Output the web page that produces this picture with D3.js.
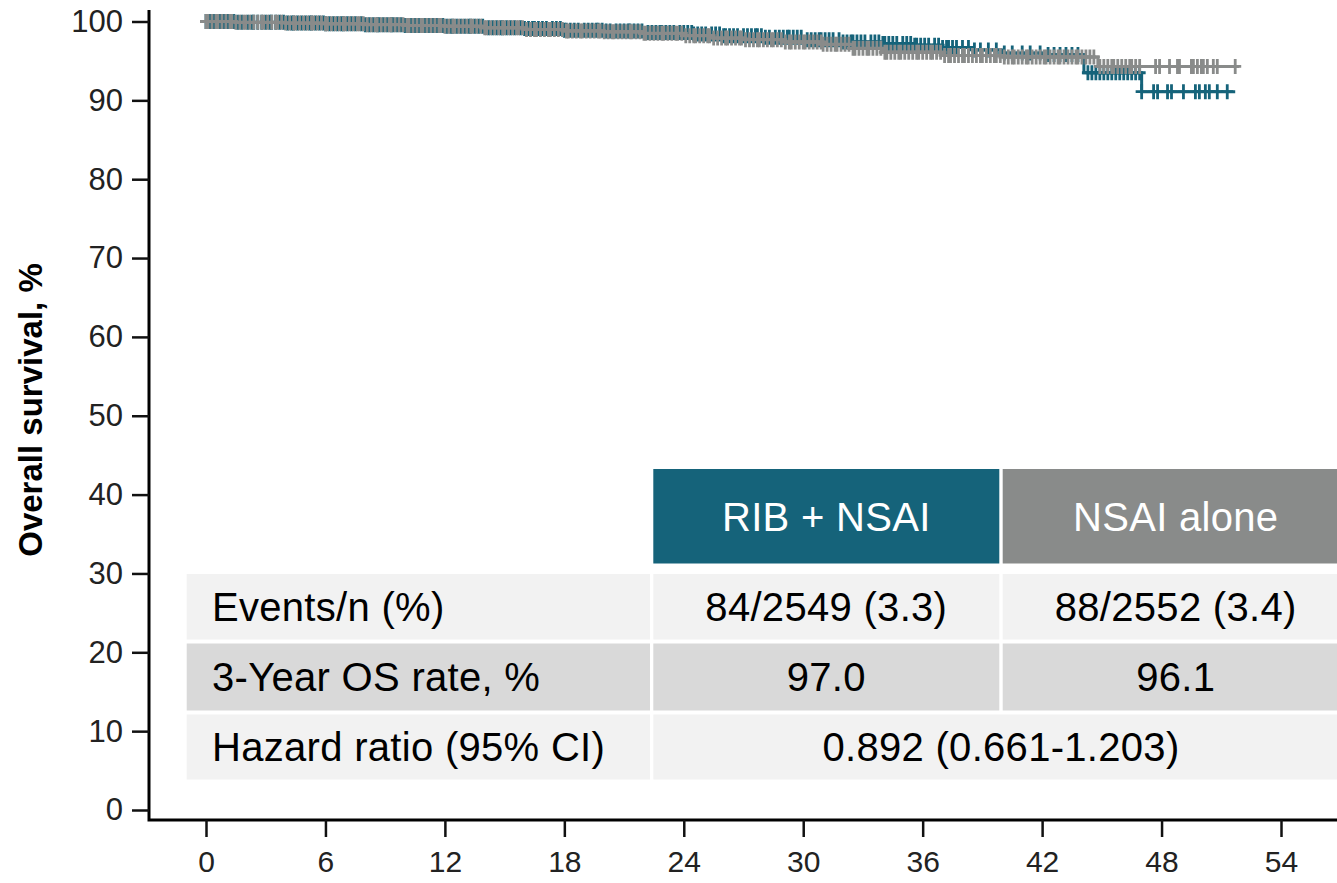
<!DOCTYPE html>
<html>
<head>
<meta charset="utf-8">
<script src="https://cdn.jsdelivr.net/npm/d3@7"></script>
<style>
  html, body { margin: 0; padding: 0; background: #fff; }
  svg { display: block; font-family: "Liberation Sans", Arial, Helvetica, sans-serif; }
</style>
</head>
<body>
<svg id="chart" width="1337" height="883"></svg>
<script>
// ---- axis ticks ----
const monthTicks = [0, 6, 12, 18, 24, 30, 36, 42, 48, 54];
const survivalTicks = [0, 10, 20, 30, 40, 50, 60, 70, 80, 90, 100];

// ---- Kaplan-Meier steps: [month, overall survival %] ----
const ribSteps = [
  [0, 100], [1.5, 99.9], [4, 99.8], [6, 99.7], [8, 99.6], [10, 99.5], [12, 99.4],
  [14, 99.2], [16, 99.1], [18, 98.9], [20, 98.8], [22, 98.6], [24.5, 98.4], [26, 98.2],
  [28, 98.0], [30, 97.7], [32, 97.4], [34, 97.2], [35.5, 97.0], [37, 96.7], [38.5, 96.4],
  [40, 96.0], [42, 95.8], [44.1, 93.5], [47.0, 91.1]
];
const ribEnd = 51.7;

const nsaiSteps = [
  [0, 100], [1.5, 99.9], [4, 99.8], [6, 99.7], [8, 99.6], [10, 99.5], [12, 99.4],
  [14, 99.2], [16, 99.0], [18, 98.8], [20, 98.7], [22, 98.5], [24, 98.2], [25.5, 97.9],
  [27, 97.7], [29, 97.4], [31, 97.1], [32.5, 96.6], [34, 96.1], [37, 95.7], [40, 95.5],
  [44.8, 94.3]
];
const nsaiEnd = 51.9;

// ---- censoring times (months) ----
const ribCensored = [
  0.0, 0.2, 0.4, 0.6, 0.7, 0.9, 1.1, 1.3, 1.4, 1.6, 1.8, 2.1, 2.3, 2.4, 2.6, 2.8, 3.0, 3.2,
  3.3, 3.5, 3.7, 3.9, 4.1, 4.3, 4.4, 4.6, 4.8, 5.0, 5.2, 5.3, 5.5, 5.7, 5.9, 6.0, 6.2, 6.4,
  6.6, 6.8, 6.9, 7.1, 7.3, 7.5, 7.8, 8.0, 8.2, 8.4, 8.6, 8.7, 8.9, 9.1, 9.3, 9.4, 9.6, 9.8,
  10.0, 10.2, 10.3, 10.5, 10.7, 10.9, 11.0, 11.2, 11.4, 11.6, 11.9, 12.1, 12.3, 12.4, 12.6,
  12.8, 13.0, 13.2, 13.3, 13.5, 13.7, 13.9, 14.2, 14.4, 14.6, 14.8, 14.9, 15.1, 15.3, 15.5,
  15.8, 16.0, 16.2, 16.4, 16.5, 16.7, 16.9, 17.1, 17.4, 17.6, 17.8, 18.0, 18.1, 18.3, 18.5,
  18.7, 19.0, 19.2, 19.4, 19.6, 19.7, 19.9, 20.1, 20.3, 20.6, 20.8, 21.0, 21.2, 21.3, 21.5,
  21.7, 21.9, 22.2, 22.4, 22.6, 22.8, 22.9, 23.1, 23.3, 23.5, 23.8, 24.0, 24.2, 24.4, 24.5,
  24.7, 24.9, 25.1, 25.4, 25.6, 25.8, 26.0, 26.1, 26.3, 26.5, 26.7, 27.0, 27.2, 27.4, 27.6,
  27.7, 27.9, 28.1, 28.3, 28.6, 28.8, 29.0, 29.2, 29.3, 29.5, 29.7, 29.9, 30.2, 30.4, 30.6,
  30.8, 30.9, 31.1, 31.3, 31.5, 31.8, 32.0, 32.2, 32.4, 32.5, 32.7, 32.9, 33.1, 33.4, 33.6,
  33.8, 34.0, 34.1, 34.3, 34.5, 34.7, 35.0, 35.2, 35.4, 35.6, 35.7, 35.9, 36.1, 36.3, 36.6,
  36.8, 37.0, 37.2, 37.3, 37.5, 37.7, 38.0, 38.3, 38.6, 38.9, 39.3, 39.7, 40.1, 40.5, 41.0,
  41.4, 41.9, 42.3, 42.6, 42.9, 43.2, 43.5, 43.8, 44.3, 44.5, 44.7, 44.9, 45.1, 45.3, 45.5,
  45.7, 45.9, 46.1, 46.3, 46.5, 46.7, 46.9, 47.0, 47.6, 47.8, 48.3, 48.5, 49.1, 49.7, 49.9,
  50.2, 50.4, 50.8, 51.3
];

const nsaiCensored = [
  0.0, 0.1, 0.3, 0.5, 0.6, 0.8, 1.0, 1.2, 1.3, 1.5, 1.7, 1.9, 2.0, 2.2, 2.4, 2.6, 2.8, 2.9,
  3.1, 3.3, 3.5, 3.6, 3.8, 4.0, 4.2, 4.4, 4.5, 4.7, 4.9, 5.1, 5.3, 5.4, 5.6, 5.8, 6.0, 6.1,
  6.3, 6.5, 6.7, 6.9, 7.0, 7.2, 7.4, 7.6, 7.7, 7.9, 8.1, 8.3, 8.5, 8.6, 8.8, 9.0, 9.2, 9.3,
  9.5, 9.7, 9.9, 10.1, 10.2, 10.4, 10.6, 10.8, 10.9, 11.1, 11.3, 11.5, 11.7, 11.8, 12.0,
  12.2, 12.4, 12.5, 12.7, 12.9, 13.1, 13.3, 13.4, 13.6, 13.8, 14.0, 14.1, 14.3, 14.5, 14.7,
  14.9, 15.0, 15.2, 15.4, 15.6, 15.7, 15.9, 16.1, 16.3, 16.5, 16.6, 16.8, 17.0, 17.2, 17.3,
  17.5, 17.7, 17.9, 18.1, 18.2, 18.4, 18.6, 18.8, 18.9, 19.1, 19.3, 19.5, 19.7, 19.8, 20.0,
  20.2, 20.4, 20.5, 20.7, 20.9, 21.1, 21.3, 21.4, 21.6, 21.8, 22.0, 22.1, 22.3, 22.5, 22.7,
  22.9, 23.0, 23.2, 23.4, 23.6, 23.7, 23.9, 24.1, 24.3, 24.5, 24.6, 24.8, 25.0, 25.2, 25.3,
  25.5, 25.7, 25.9, 26.1, 26.2, 26.4, 26.6, 26.8, 26.9, 27.1, 27.3, 27.5, 27.7, 27.8, 28.0,
  28.2, 28.4, 28.5, 28.7, 28.9, 29.1, 29.3, 29.4, 29.6, 29.8, 30.0, 30.1, 30.3, 30.5, 30.7,
  30.9, 31.0, 31.2, 31.4, 31.6, 31.7, 31.9, 32.1, 32.3, 32.5, 32.6, 32.8, 33.0, 33.2, 33.3,
  33.5, 33.7, 33.9, 34.1, 34.2, 34.4, 34.6, 34.8, 34.9, 35.1, 35.3, 35.5, 35.7, 35.8, 36.0,
  36.2, 36.4, 36.5, 36.7, 36.9, 37.1, 37.3, 37.4, 37.6, 37.8, 38.0, 38.1, 38.3, 38.5, 38.7,
  38.9, 39.0, 39.2, 39.4, 39.6, 39.7, 39.9, 40.1, 40.3, 40.5, 40.6, 40.8, 41.0, 41.2, 41.3,
  41.5, 41.7, 41.9, 42.1, 42.2, 42.4, 42.6, 42.8, 42.9, 43.1, 43.3, 43.5, 43.7, 43.8, 44.0,
  44.2, 44.4, 44.6, 44.9, 45.1, 45.3, 45.5, 45.6, 45.8, 46.0, 46.2, 46.4, 46.5, 46.7, 46.9,
  47.7, 47.9, 48.4, 48.8, 48.9, 49.5, 49.6, 49.8, 50.0, 50.1, 50.3, 50.6, 50.8, 51.7
];

// ---- summary table ----
const armNames = ["RIB + NSAI", "NSAI alone"];
const rowLabels = ["Events/n (%)", "3-Year OS rate, %", "Hazard ratio (95% CI)"];
const eventsPerN = ["84/2549 (3.3)", "88/2552 (3.4)"];
const osRate3Year = [97.0, 96.1];
const hazardRatio = "0.892 (0.661-1.203)";

const yTitle = "Overall survival, %";

// ---- palette ----
const TEAL = "#15637a";
const GRAY = "#898b8a";

const svg = d3.select("#chart");

const x = d3.scaleLinear().domain([0, 54]).range([206, 1281]);
const y = d3.scaleLinear().domain([0, 100]).range([810, 21.5]);

// axis frame
svg.append("path")
  .attr("d", "M149,10V821.5M147.5,820H1337")
  .attr("fill", "none")
  .attr("stroke", "#000")
  .attr("stroke-width", 3);

const yAxis = svg.append("g")
  .attr("transform", "translate(149,0)")
  .call(d3.axisLeft(y).tickValues(survivalTicks).tickSize(17).tickPadding(9).tickFormat(d3.format("d")));
yAxis.select(".domain").remove();
yAxis.selectAll(".tick line").attr("stroke", "#111").attr("stroke-width", 2.5);
yAxis.selectAll(".tick text")
  .attr("fill", "#222")
  .style("font-size", "31px")
  .style("font-family", "\"Liberation Sans\", Arial, sans-serif");

const xAxis = svg.append("g")
  .attr("transform", "translate(0,820)")
  .call(d3.axisBottom(x).tickValues(monthTicks).tickSize(17).tickPadding(14).tickFormat(d3.format("d")));
xAxis.select(".domain").remove();
xAxis.selectAll(".tick line").attr("stroke", "#111").attr("stroke-width", 2.5);
xAxis.selectAll(".tick text")
  .attr("fill", "#222")
  .style("font-size", "30px")
  .style("font-family", "\"Liberation Sans\", Arial, sans-serif");

// y-axis title
svg.append("text")
  .attr("transform", "translate(42,410) rotate(-90)")
  .attr("text-anchor", "middle")
  .attr("fill", "#000")
  .style("font-size", "33px")
  .style("font-weight", "bold")
  .text(yTitle);

// ---- survival curves ----
const stepBisect = d3.bisector(d => d[0]).right;
function survivalAt(steps, t) {
  return steps[Math.max(0, stepBisect(steps, t) - 1)][1];
}

const line = d3.line()
  .x(d => x(d[0]))
  .y(d => y(d[1]))
  .curve(d3.curveStepAfter);

function drawArm(steps, endMonth, censored, color) {
  const g = svg.append("g");
  const pts = steps.concat([[endMonth, steps[steps.length - 1][1]]]);
  g.append("path")
    .datum(pts)
    .attr("d", line)
    .attr("fill", "none")
    .attr("stroke", color)
    .attr("stroke-width", 3);
  g.selectAll("path.censor")
    .data(censored)
    .join("path")
    .attr("class", "censor")
    .attr("d", t => {
      const cx = x(t), cy = y(survivalAt(steps, t));
      return `M${cx - 6},${cy}H${cx + 6}M${cx},${cy - 7.5}V${cy + 7.5}`;
    })
    .attr("fill", "none")
    .attr("stroke", color)
    .attr("stroke-width", 2.8);
}

drawArm(ribSteps, ribEnd, ribCensored, TEAL);
drawArm(nsaiSteps, nsaiEnd, nsaiCensored, GRAY);

// ---- summary table ----
const table = svg.append("g").style("font-size", "40px").style("letter-spacing", "0.3px");
const colX = [186.7, 653.3, 1002.7];
const colW = [463.3, 346, 346];
const rowY = [574, 643.5, 714.5];
const rowH = [65.5, 67, 65];
const rowFill = ["#f2f2f2", "#d9d9d9", "#f2f2f2"];
const headerColors = [TEAL, GRAY];

// header cells
armNames.forEach((name, i) => {
  table.append("rect")
    .attr("x", colX[i + 1]).attr("y", 469)
    .attr("width", colW[i + 1]).attr("height", 94.5)
    .attr("fill", headerColors[i]);
  table.append("text")
    .attr("x", colX[i + 1] + colW[i + 1] / 2)
    .attr("y", 517)
    .attr("dy", "0.35em")
    .attr("text-anchor", "middle")
    .attr("fill", "#fff")
    .text(name);
});

// body rows
const bodyValues = [
  eventsPerN,
  osRate3Year.map(v => v.toFixed(1)),
  [hazardRatio]
];
rowLabels.forEach((label, r) => {
  table.append("rect")
    .attr("x", colX[0]).attr("y", rowY[r])
    .attr("width", colW[0]).attr("height", rowH[r])
    .attr("fill", rowFill[r]);
  table.append("text")
    .attr("x", 212)
    .attr("y", rowY[r] + rowH[r] / 2)
    .attr("dy", "0.35em")
    .attr("fill", "#000")
    .text(label);

  const vals = bodyValues[r];
  if (vals.length === 2) {
    vals.forEach((v, c) => {
      table.append("rect")
        .attr("x", colX[c + 1]).attr("y", rowY[r])
        .attr("width", colW[c + 1]).attr("height", rowH[r])
        .attr("fill", rowFill[r]);
      table.append("text")
        .attr("x", colX[c + 1] + colW[c + 1] / 2)
        .attr("y", rowY[r] + rowH[r] / 2)
        .attr("dy", "0.35em")
        .attr("text-anchor", "middle")
        .attr("fill", "#000")
        .text(v);
    });
  } else {
    const x0 = colX[1], x1 = colX[2] + colW[2];
    table.append("rect")
      .attr("x", x0).attr("y", rowY[r])
      .attr("width", x1 - x0).attr("height", rowH[r])
      .attr("fill", rowFill[r]);
    table.append("text")
      .attr("x", (x0 + x1) / 2)
      .attr("y", rowY[r] + rowH[r] / 2)
      .attr("dy", "0.35em")
      .attr("text-anchor", "middle")
      .attr("fill", "#000")
      .text(vals[0]);
  }
});
</script>
</body>
</html>
